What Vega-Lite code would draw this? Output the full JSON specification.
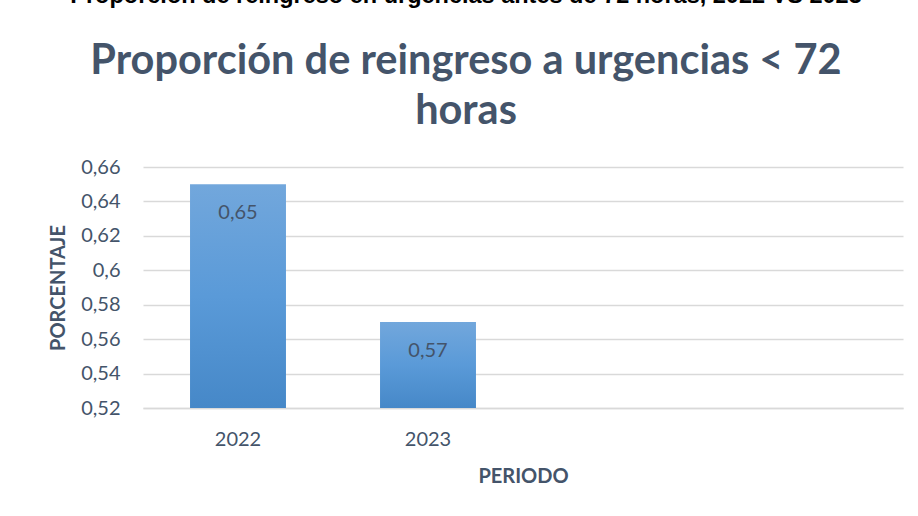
{
  "$schema": "https://vega.github.io/schema/vega-lite/v6.json",
  "width": 760,
  "height": 241,
  "autosize": {"type": "none"},
  "padding": {"left": 143, "top": 167, "right": 15, "bottom": 108},
  "background": "white",
  "config": {
    "locale": {"number": {"decimal": ",", "thousands": ".", "grouping": [3], "currency": ["", " €"]}},
    "view": {"stroke": null},
    "font": "Lato"
  },
  "title": {
    "text": "Proporción de reingreso en urgencias antes de 72 horas, 2022 VS 2023",
    "subtitle": ["Proporción de reingreso a urgencias < 72", "horas"],
    "anchor": "middle",
    "dx": -57,
    "offset": 25,
    "font": "Liberation Sans",
    "fontSize": 23.5,
    "fontWeight": "bold",
    "color": "#000000",
    "subtitleFont": "Lato",
    "subtitleFontSize": 41.5,
    "subtitleFontWeight": "bold",
    "subtitleColor": "#44546A",
    "subtitleLineHeight": 50,
    "subtitlePadding": 33
  },
  "data": {
    "values": [
      {"periodo": "2022", "porcentaje": 0.65},
      {"periodo": "2023", "porcentaje": 0.57}
    ]
  },
  "encoding": {
    "x": {
      "field": "periodo",
      "type": "nominal",
      "scale": {"domain": ["2022", "2023", " ", "  "], "paddingInner": 0.495, "paddingOuter": 0.2475},
      "axis": {
        "title": "PERIODO",
        "labelAngle": 0,
        "labelFontSize": 20,
        "labelColor": "#44546A",
        "labelPadding": 21,
        "ticks": false,
        "domainColor": "#d9d9d9",
        "domainWidth": 1.5,
        "titleFontSize": 20,
        "titleFontWeight": "bold",
        "titleColor": "#44546A",
        "titlePadding": 17
      }
    },
    "y": {
      "field": "porcentaje",
      "type": "quantitative",
      "scale": {"domain": [0.52, 0.66], "nice": false, "zero": false},
      "axis": {
        "title": "PORCENTAJE",
        "values": [0.52, 0.54, 0.56, 0.58, 0.6, 0.62, 0.64, 0.66],
        "format": ".2~f",
        "labelFontSize": 20,
        "labelColor": "#44546A",
        "labelPadding": 23,
        "ticks": false,
        "domain": false,
        "gridColor": "#d9d9d9",
        "gridWidth": 1.5,
        "titleFontSize": 20,
        "titleFontWeight": "bold",
        "titleColor": "#44546A",
        "titlePadding": 12
      }
    }
  },
  "layer": [
    {
      "mark": {
        "type": "bar",
        "color": {
          "gradient": "linear",
          "x1": 0, "y1": 0, "x2": 0, "y2": 1,
          "stops": [
            {"offset": 0, "color": "#72a7dc"},
            {"offset": 0.5, "color": "#5a9ad8"},
            {"offset": 1, "color": "#4688c8"}
          ]
        }
      },
      "encoding": {"y2": {"datum": 0.52}}
    },
    {
      "mark": {"type": "text", "baseline": "top", "dy": 19, "fontSize": 20, "color": "#44546A"},
      "encoding": {
        "text": {"field": "porcentaje", "type": "quantitative", "format": ".2~f"}
      }
    }
  ]
}
